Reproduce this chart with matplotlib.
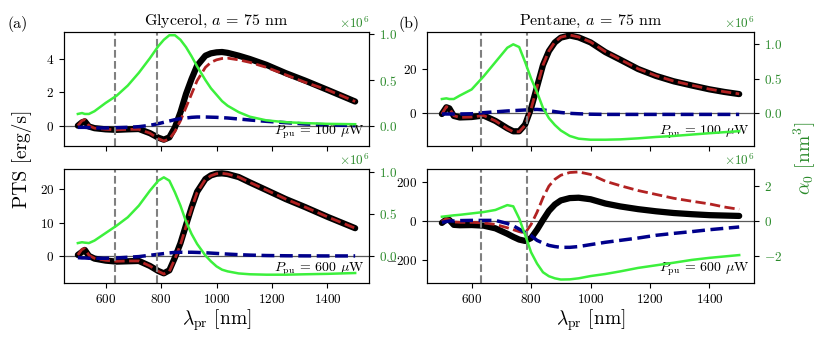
# PTS spectra vs probe wavelength, glycerol / pentane, two pump powers

import numpy as np
import matplotlib
matplotlib.use('Agg')
import matplotlib.pyplot as plt

plt.rcParams['font.family'] = 'serif'
plt.rcParams['font.serif'] = ['cmr10', 'DejaVu Serif']
plt.rcParams['mathtext.fontset'] = 'cm'
plt.rcParams['axes.formatter.use_mathtext'] = True
plt.rcParams['axes.unicode_minus'] = True

# probe wavelengths [nm]
wl_gly = [500, 515, 525, 540, 560, 600, 640, 680, 720, 760, 790, 810, 830, 850,
          870, 890, 910, 930, 960, 980, 1000, 1020, 1040, 1080, 1120, 1180, 1250, 1320, 1400, 1500]
wl_pen = [500, 515, 525, 540, 560, 600, 640, 680, 720, 740, 760, 780, 800, 820,
          840, 860, 880, 900, 930, 960, 1000, 1050, 1100, 1160, 1220, 1280, 1340, 1400, 1450, 1500]

# glycerol, 100 uW  (PTS in erg/s, alpha in 1e6 nm^3)
gly100_total = [0.0, 0.2, 0.26, -0.05, -0.15, -0.22, -0.25, -0.22, -0.2, -0.45, -0.72, -0.84, -0.7, -0.1,
                0.8, 1.9, 2.8, 3.6, 4.2, 4.34, 4.4, 4.42, 4.37, 4.2, 4.0, 3.65, 3.15, 2.7, 2.15, 1.45]
gly100_a = [0.0, 0.3, 0.36, 0.0, -0.15, -0.22, -0.25, -0.22, -0.22, -0.45, -0.78, -0.92, -0.8, -0.35,
            0.3, 1.1, 1.9, 2.7, 3.5, 3.8, 3.95, 4.03, 4.05, 3.95, 3.8, 3.5, 3.05, 2.6, 2.15, 1.45]
gly100_b = [-0.1, -0.1, -0.1, -0.12, -0.13, -0.14, -0.12, -0.1, -0.06, 0.02, 0.12, 0.2, 0.28, 0.36,
            0.42, 0.46, 0.5, 0.52, 0.52, 0.51, 0.5, 0.48, 0.46, 0.4, 0.34, 0.26, 0.18, 0.1, 0.05, 0.0]
gly100_alpha = [0.13, 0.14, 0.13, 0.13, 0.16, 0.25, 0.33, 0.44, 0.58, 0.74, 0.87, 0.94, 0.99, 0.99,
                0.94, 0.86, 0.76, 0.65, 0.5, 0.41, 0.34, 0.27, 0.22, 0.15, 0.1, 0.06, 0.04, 0.03, 0.022, 0.018]

# glycerol, 600 uW
gly600_total = [0.3, 1.2, 1.8, 0.0, -0.8, -1.4, -1.7, -1.6, -1.5, -3.0, -4.5, -5.2, -4.3, -0.5,
                3.8, 9.2, 14.5, 19.2, 23.0, 24.1, 24.6, 24.7, 24.5, 23.6, 22.0, 19.7, 17.0, 14.6, 11.7, 8.3]
gly600_a = [0.3, 2.0, 2.2, 0.2, -0.7, -1.3, -1.6, -1.5, -1.5, -3.0, -4.6, -5.4, -4.6, -0.9,
            3.4, 8.8, 14.2, 19.0, 22.9, 24.0, 24.6, 24.7, 24.5, 23.6, 22.0, 19.7, 17.0, 14.6, 11.7, 8.3]
gly600_b = [-0.5, -0.6, -0.6, -0.7, -0.7, -0.7, -0.6, -0.4, -0.2, 0.2, 0.5, 0.7, 0.9, 1.05,
            1.1, 1.1, 1.1, 1.05, 0.95, 0.85, 0.75, 0.65, 0.55, 0.38, 0.25, 0.12, 0.05, 0.02, 0.0, 0.0]
gly600_alpha = [0.15, 0.16, 0.155, 0.15, 0.18, 0.27, 0.36, 0.46, 0.6, 0.78, 0.9, 0.94, 0.9, 0.76,
                0.6, 0.41, 0.26, 0.14, 0.0, -0.07, -0.13, -0.17, -0.19, -0.215, -0.225, -0.23, -0.23,
                -0.225, -0.22, -0.21]

# pentane, 100 uW
pen100_total = [-0.6, 2.5, 2.0, -1.5, -2.2, -2.0, -1.3, -3.8, -7.2, -8.6, -8.6, -5.5, 2.0, 12.0,
                22.0, 28.5, 32.5, 34.7, 35.7, 34.8, 32.5, 28.0, 24.5, 20.2, 17.0, 14.5, 12.6, 10.8, 9.6, 8.6]
pen100_a = [-0.6, 2.8, 2.2, -1.4, -2.2, -2.0, -1.3, -3.8, -7.4, -8.8, -8.8, -5.8, 1.8, 11.8,
            22.0, 28.6, 32.7, 34.9, 35.9, 35.0, 32.7, 28.2, 24.6, 20.3, 17.1, 14.6, 12.7, 10.9, 9.7, 8.7]
pen100_b = [-0.6, -0.6, -0.6, -0.6, -0.6, -0.5, 0.0, 0.4, 0.8, 0.95, 1.1, 1.25, 1.4, 1.5,
            1.3, 0.9, 0.5, 0.1, -0.3, -0.5, -0.7, -0.8, -0.8, -0.8, -0.8, -0.8, -0.8, -0.8, -0.8, -0.8]
pen100_alpha = [0.2, 0.21, 0.2, 0.2, 0.25, 0.34, 0.53, 0.74, 0.95, 1.0, 0.96, 0.74, 0.5, 0.3,
                0.07, -0.08, -0.18, -0.26, -0.34, -0.38, -0.395, -0.395, -0.39, -0.375, -0.355,
                -0.34, -0.32, -0.3, -0.285, -0.27]

# pentane, 600 uW
pen600_total = [-10, 8, 5, -20, -22, -21, -24, -38, -66, -82, -96, -103, -88, -45,
                5, 52, 85, 106, 118, 120, 112, 90, 75, 61, 50, 41, 35, 30, 28, 26]
pen600_a = [-3, 12, 8, -5, -7, -7, -10, -18, -35, -45, -55, -62, -18, 45,
            120, 180, 215, 236, 250, 253, 240, 205, 182, 157, 137, 117, 102, 88, 72, 60]
pen600_b = [-7, -3, 0, 0, 2, 3, 3, 3, -13, -25, -42, -60, -76, -100,
            -114, -126, -132, -136, -136, -132, -122, -110, -100, -88, -74, -64, -55, -45, -38, -31]
pen600_alpha = [0.25, 0.28, 0.3, 0.33, 0.36, 0.44, 0.52, 0.64, 0.92, 0.85, 0.15, -0.8, -1.8, -2.45,
                -2.95, -3.18, -3.3, -3.37, -3.36, -3.3, -3.17, -3.05, -2.9, -2.7, -2.55, -2.4,
                -2.24, -2.12, -2.04, -1.96]

pump_lines = [633, 785]

c_total = 'black'
c_a = 'firebrick'
c_b = 'darkblue'
c_alpha = '#3cf03c'
c_text = '#2a8a2a'

fig = plt.figure(figsize=(8.3, 3.42), dpi=100)
pos = {
    (0, 0): [0.0771, 0.5731, 0.3675, 0.3333],
    (0, 1): [0.5145, 0.5731, 0.394, 0.3333],
    (1, 0): [0.0771, 0.1725, 0.3675, 0.3333],
    (1, 1): [0.5145, 0.1725, 0.394, 0.3333],
}

panels = [
    ((0, 0), wl_gly, gly100_total, gly100_a, gly100_b, gly100_alpha, 100,
     (-1.22, 5.62), (-0.22, 1.025), [0, 2, 4], [0.0, 0.5, 1.0]),
    ((1, 0), wl_gly, gly600_total, gly600_a, gly600_b, gly600_alpha, 600,
     (-8.1, 26), (-0.33, 1.04), [0, 10, 20], [0.0, 0.5, 1.0]),
    ((0, 1), wl_pen, pen100_total, pen100_a, pen100_b, pen100_alpha, 100,
     (-15.4, 37.3), (-0.487, 1.18), [0, 20], [0.0, 0.5, 1.0]),
    ((1, 1), wl_pen, pen600_total, pen600_a, pen600_b, pen600_alpha, 600,
     (-320, 268), (-3.57, 3.0), [-200, 0, 200], [-2, 0, 2]),
]

fs_tick = 9.5
for key, wl, tot, a, b, alpha, ppu, ylim, ylim2, yt, yt2 in panels:
    ax = fig.add_axes(pos[key])
    ax.plot(wl, tot, color=c_total, lw=4.5, solid_capstyle='round', solid_joinstyle='round')
    ax.plot(wl, a, color=c_a, lw=2.0, ls='--')
    ax.plot(wl, b, color=c_b, lw=2.5, ls='--')
    ax.axhline(0, color='0.35', lw=0.9, zorder=0)
    for p in pump_lines:
        ax.axvline(p, color='gray', lw=1.5, ls='--')
    ax.set_xlim(450, 1550)
    ax.set_ylim(*ylim)
    ax.set_yticks(yt)
    ax.set_xticks([600, 800, 1000, 1200, 1400])
    ax.tick_params(labelsize=fs_tick)
    if key[0] == 0:
        ax.tick_params(labelbottom=False)
    else:
        ax.set_xlabel(r'$\lambda_{\rm pr}$ [nm]', fontsize=14, labelpad=1)
    ax.text(0.985, 0.04, r'$P_{\rm pu}$ = %d $\mu$W' % ppu, transform=ax.transAxes,
            ha='right', va='bottom', fontsize=10)

    ax2 = ax.twinx()
    ax2.plot(wl, np.array(alpha) * 1e6, color=c_alpha, lw=1.8)
    ax2.set_ylim(ylim2[0] * 1e6, ylim2[1] * 1e6)
    ax2.set_yticks(np.array(yt2) * 1e6)
    ax2.tick_params(labelsize=fs_tick, labelcolor=c_text)
    ax2.yaxis.get_offset_text().set_color(c_text)
    ax2.yaxis.get_offset_text().set_fontsize(fs_tick)

    if key == (0, 0):
        ax.set_title(r'Glycerol, $a$ = 75 nm', fontsize=11.5, pad=5)
    if key == (0, 1):
        ax.set_title(r'Pentane, $a$ = 75 nm', fontsize=11.5, pad=5)

fig.text(18 / 830, 1 - 24 / 342, '(a)', fontsize=11.5, ha='center', va='center')
fig.text(409 / 830, 1 - 24 / 342, '(b)', fontsize=11.5, ha='center', va='center')
fig.text(22 / 830, 1 - 159 / 342, 'PTS [erg/s]', fontsize=14, rotation=90,
         ha='center', va='center')
fig.text(805 / 830, 1 - 158 / 342, r'$\alpha_0$ [nm$^3$]', fontsize=14, rotation=90,
         ha='center', va='center', color=c_text)

fig.savefig('out.png', dpi=100)
